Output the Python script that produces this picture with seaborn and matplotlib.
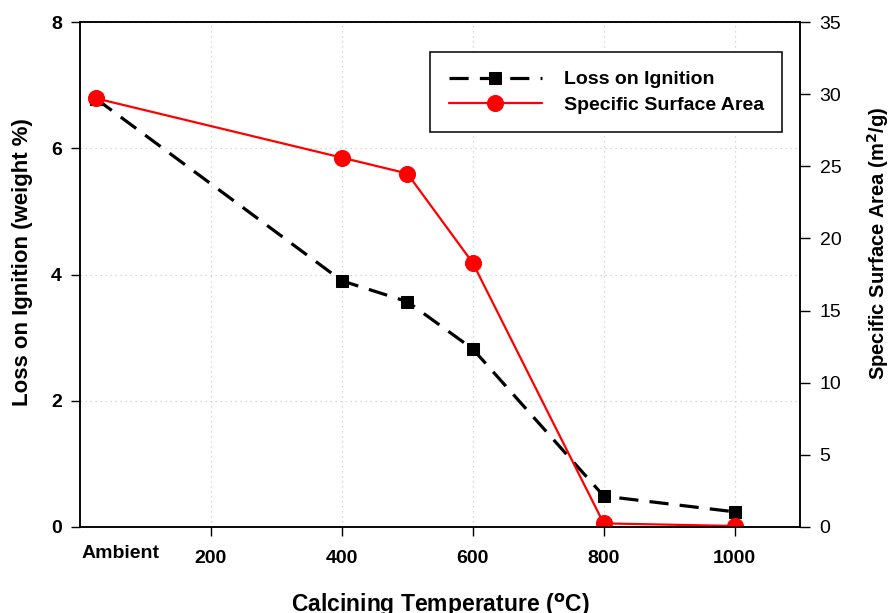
import matplotlib
matplotlib.use("Agg")
import matplotlib.pyplot as plt
import seaborn as sns

# data
temps = [25, 400, 500, 600, 800, 1000]
loss_on_ignition = [6.78, 3.90, 3.57, 2.82, 0.49, 0.24]
surface_area = [29.7, 25.6, 24.5, 18.3, 0.25, 0.07]
x_ticks = [200, 400, 600, 800, 1000]

sns.set_style("white")
plt.rcParams["font.family"] = ["Liberation Sans", "DejaVu Sans"]
plt.rcParams.update({"text.color": "black", "axes.labelcolor": "black",
                     "xtick.color": "black", "ytick.color": "black"})

fig = plt.figure(figsize=(8.89, 6.13), dpi=100)
ax = fig.add_axes([0.09, 0.1403, 0.81, 0.8238])
ax2 = ax.twinx()

sns.lineplot(x=temps, y=loss_on_ignition, ax=ax, color="black", lw=2.3,
             linestyle=(0, (6, 3.5)), marker="s", markersize=8.5,
             markeredgecolor="black", label="Loss on Ignition", legend=False)
sns.lineplot(x=temps, y=surface_area, ax=ax2, color="#ff0000", lw=1.6,
             marker="o", markersize=11.5, markeredgecolor="#ff0000",
             label="Specific Surface Area", legend=False)

ax.set_xlim(0, 1100)
ax.set_ylim(0, 8)
ax2.set_ylim(0, 35)
ax.set_xticks(x_ticks)
ax.set_yticks([0, 2, 4, 6, 8])
ax2.set_yticks(range(0, 36, 5))

ax.grid(True, linestyle=(0, (1, 3)), color="#cccccc", lw=0.9)
ax.set_axisbelow(True)

for a in (ax, ax2):
    for s in a.spines.values():
        s.set_color("black")
        s.set_linewidth(1.1)

ax.tick_params(axis="both", direction="out", length=6.5, width=1, color="black",
               labelsize=14, bottom=True, left=True)
for lab in ax.get_xticklabels() + ax.get_yticklabels():
    lab.set_fontweight("bold")
ax.tick_params(axis="x", pad=10)
ax.tick_params(axis="y", pad=6.5)
ax2.tick_params(axis="y", direction="out", length=7, width=1, color="black",
                labelsize=14, right=True, pad=7)

ax.text(3, -0.28, "Ambient", ha="left", va="top", fontsize=14, fontweight="bold")

ax.set_xlabel("Calcining Temperature ($\\mathbf{^{o}}$C)", fontsize=16.5,
              fontweight="bold", labelpad=18)
ax.set_ylabel("Loss on Ignition (weight %)", fontsize=16, fontweight="bold", labelpad=12)
ax.yaxis.set_label_coords(-0.065, 0.525)
ax2.set_ylabel("Specific Surface Area (m$\\mathbf{^{2}}$/g)", fontsize=14.5,
               fontweight="bold", labelpad=14)
ax2.yaxis.set_label_coords(1.09, 0.562)

h1, l1 = ax.get_legend_handles_labels()
h2, l2 = ax2.get_legend_handles_labels()
leg = ax2.legend(h1 + h2, l1 + l2, loc="upper right", bbox_to_anchor=(0.975, 0.94),
                 frameon=True, fancybox=False, edgecolor="black", framealpha=1,
                 handlelength=4.8, handletextpad=1.1, borderpad=0.95,
                 labelspacing=0.4, prop={"size": 14, "weight": "bold"},
                 borderaxespad=0)
leg.get_frame().set_linewidth(1.1)

fig.savefig("out.png", dpi=100)
